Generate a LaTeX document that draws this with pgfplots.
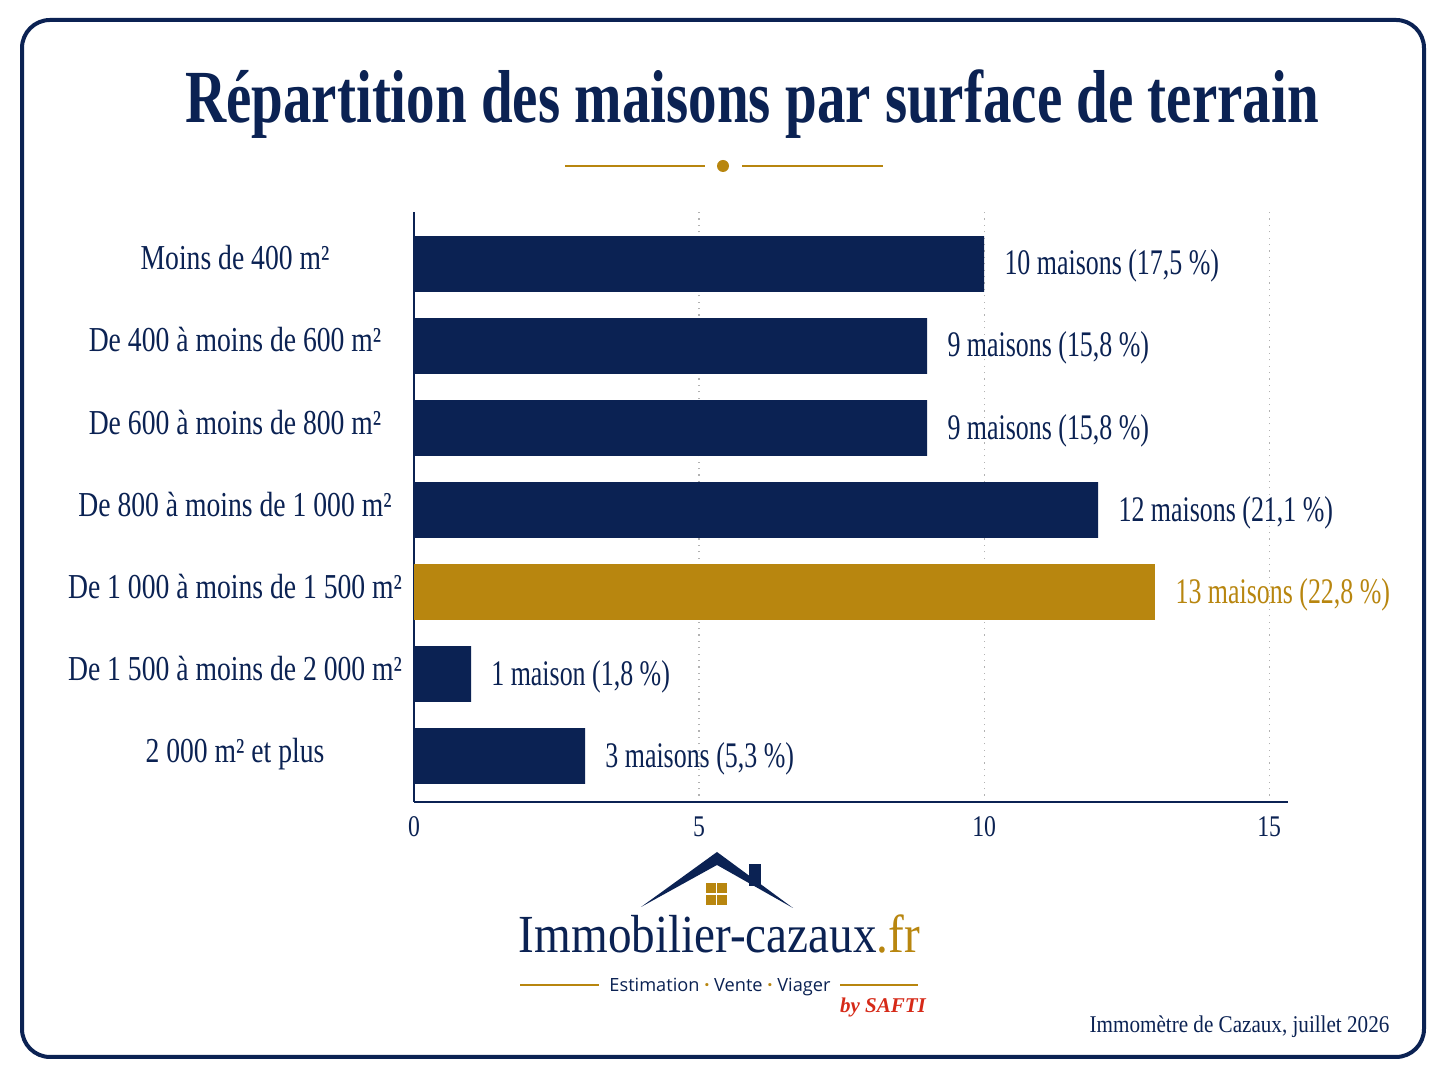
\documentclass[border=0pt]{standalone}
\usepackage{fontspec}
\setmainfont{Liberation Serif}
\newfontfamily\catfont{Liberation Serif}[FakeStretch=0.79]
\newfontfamily\barfont{Liberation Serif}[FakeStretch=0.72]
\newfontfamily\titlefont{Liberation Serif}[FakeStretch=0.76]
\newfontfamily\footfont{Liberation Serif}[FakeStretch=0.88]
\newfontfamily\sansfont{Open Sans}
\usepackage{pgfplots}
\usepackage{pgfplotstable}
\pgfplotsset{compat=1.18}
\definecolor{navy}{HTML}{0B2253}
\definecolor{gold}{HTML}{B8860F}
\definecolor{saftired}{HTML}{D62A18}

\pgfplotstableread[col sep=semicolon]{
y;n;lab
6;10;10 maisons (17,5 \%)
5;9;9 maisons (15,8 \%)
4;9;9 maisons (15,8 \%)
3;12;12 maisons (21,1 \%)
1;1;1 maison (1,8 \%)
0;3;3 maisons (5,3 \%)
}\navydata
\pgfplotstableread[col sep=semicolon]{
y;n;lab
2;13;13 maisons (22,8 \%)
}\golddata

\begin{document}
\begin{tikzpicture}[x=1pt,y=1pt]
\path[use as bounding box, fill=white] (0,0) rectangle (724,543);
% frame
\draw[navy, line width=2pt, rounded corners=14pt] (11,14.5) rectangle (712,533);
% title
\node[anchor=base, text=navy, inner sep=0pt] at (376,481.5)
  {\titlefont\bfseries\fontsize{37.5}{40}\selectfont Répartition des maisons par surface de terrain};
% ornament
\draw[gold, line width=0.8pt] (282.5,460) -- (352.5,460);
\draw[gold, line width=0.8pt] (371,460) -- (441.5,460);
\fill[gold] (361.5,460) circle (3pt);

\begin{axis}[
  at={(207pt,142pt)}, anchor=south west,
  width=437pt, height=295pt, scale only axis,
  xmin=0, xmax=15.33, ymin=-0.56, ymax=6.634,
  xtick={0,5,10,15}, ytick={0,1,2,3,4,5,6},
  yticklabels={2 000 m² et plus, De 1 500 à moins de 2 000 m², De 1 000 à moins de 1 500 m², De 800 à moins de 1 000 m², De 600 à moins de 800 m², De 400 à moins de 600 m², Moins de 400 m²},
  major tick length=0pt,
  xmajorgrids,
  major x grid style={gray!60, line width=0.6pt, dash pattern=on 0.6pt off 2.6pt},
  axis x line*=bottom, axis y line*=left,
  x axis line style={navy, line width=1pt, -},
  y axis line style={navy, line width=1.4pt, -},
  /pgf/number format/assume math mode=true,
  xticklabel style={font=\catfont\fontsize{15}{17}\selectfont, text=navy, anchor=base, inner sep=0pt, yshift=-17.5pt},
  yticklabel style={font=\catfont\fontsize{17.5}{19}\selectfont, text=navy, anchor=base, inner sep=0pt, xshift=-89.5pt, yshift=-3pt},
  nodes near coords style={font=\barfont\fontsize{18}{20}\selectfont, anchor=base west, inner sep=0pt, xshift=10pt, yshift=-5.5pt},
]
\addplot[xbar, bar width=0.68, bar shift=0pt, fill=navy, draw=none,
  nodes near coords, point meta=explicit symbolic,
  every node near coord/.append style={text=navy}]
  table[x=n, y=y, meta=lab] {\navydata};
\addplot[xbar, bar width=0.68, bar shift=0pt, fill=gold, draw=none,
  nodes near coords, point meta=explicit symbolic,
  every node near coord/.append style={text=gold}]
  table[x=n, y=y, meta=lab] {\golddata};
\end{axis}

% logo
\fill[navy] (320.5,89.5) -- (358.5,117) -- (396.5,89) -- (358.5,110.5) -- cycle;
\fill[navy] (374.5,100) rectangle (380.5,111);
\fill[gold] (353,96.5) rectangle (357.8,101.5);
\fill[gold] (358.7,96.5) rectangle (363.5,101.5);
\fill[gold] (353,90.5) rectangle (357.8,95.6);
\fill[gold] (358.7,90.5) rectangle (363.5,95.6);
\node[anchor=base, inner sep=0pt] at (359.75,66.5)
  {\footfont\fontsize{26.8}{28}\selectfont\textcolor{navy}{Immobilier-cazaux}\textcolor{gold}{.fr}};
\draw[gold, line width=1pt] (260,50.5) -- (299.5,50.5);
\draw[gold, line width=1pt] (420,50.5) -- (459,50.5);
\node[anchor=base, inner sep=0pt, text=navy] at (360,47.2)
  {\sansfont\fontsize{9.1}{11}\selectfont Estimation \textcolor{gold}{\textbf{·}} Vente \textcolor{gold}{\textbf{·}} Viager};
\node[anchor=base, inner sep=0pt, text=saftired] at (441.5,36.5)
  {\fontsize{10.5}{12}\selectfont\bfseries\itshape by SAFTI};
% footer
\node[anchor=base, inner sep=0pt, text=navy] at (619.75,26.5)
  {\footfont\fontsize{12}{14}\selectfont Immomètre de Cazaux, juillet 2026};
\end{tikzpicture}
\end{document}
